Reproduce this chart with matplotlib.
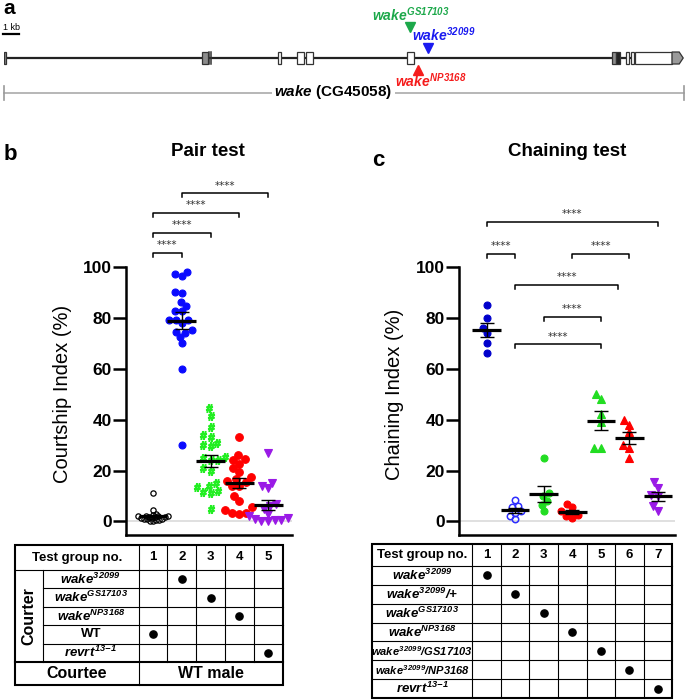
import numpy as np
import matplotlib
matplotlib.use('Agg')
import matplotlib.pyplot as plt
from matplotlib.patches import Rectangle, Polygon

plt.rcParams['font.family'] = ['Liberation Sans', 'DejaVu Sans']
plt.rcParams['mathtext.fontset'] = 'custom'
plt.rcParams['mathtext.rm'] = 'Liberation Sans:italic:bold'
plt.rcParams['mathtext.it'] = 'Liberation Sans:italic:bold'
plt.rcParams['mathtext.bf'] = 'Liberation Sans:bold'

# ---------------- data ----------------
# panel a: gene model, positions in kb
gene_line_end = 39.4
exons_gray = [(0.0, 0.12), (12.38, 12.72), (38.0, 38.25)]
exons_dark = [(38.25, 38.5)]
exons_white = [(17.1, 17.3), (18.3, 18.75), (18.9, 19.3), (25.2, 25.6),
               (38.9, 39.06), (39.2, 39.4), (39.45, 41.75)]
exon_ticks = [12.8, 12.95]
utr_tip = (41.75, 42.45)
ins_gs17103 = 25.4
ins_32099 = 26.5
ins_np3168 = 25.9
gene_span = (0.0, 42.5)

# panel b: pair test, courtship index (%)
pair_groups = [1, 2, 3, 4, 5]
pair_wt = [11.2, 4.5, 3.0, 2.6, 2.3, 2.0, 2.0, 1.8, 1.6, 1.5, 1.3, 1.1, 1.0,
           0.8, 0.6, 0.5, 0.3, 0.1, 2.2, 1.7]
pair_32099 = [98, 97, 96.5, 90, 89.5, 86, 84.5, 82.5, 82.5, 79, 79, 79, 78,
              75, 74.5, 74, 72.5, 70, 60, 30]
pair_gs17103 = [44.5, 41.5, 37, 34, 33, 31, 30, 29.5, 25.5, 25, 24, 24, 21,
                20, 15, 14, 13.5, 12, 11.5, 11, 5]
pair_np3168 = [33, 26, 24.5, 24, 22.5, 21, 19.5, 17.5, 16.5, 16, 15.5, 14,
               14, 10, 8, 5.5, 4.5, 3.5, 3.5, 3]
pair_revrt = [27, 15, 14, 13, 7, 6, 5, 3, 2, 1.5, 1, 0.5, 0.5, 0.3, 0.2]
pair_brackets = [(1, 2, 105.4), (1, 3, 113.3), (1, 4, 121.0), (2, 5, 128.8)]
pair_courters = [r'$wake^{32099}$', r'$wake^{GS17103}$',
                 r'$wake^{NP3168}$', 'WT', r'$revrt^{13{-}1}$']
pair_courter_group = [2, 3, 4, 1, 5]

# panel c: chaining test, chaining index (%)
chain_groups = [1, 2, 3, 4, 5, 6, 7]
chain_32099 = [85, 80, 76, 74, 70, 66]
chain_32099_het = [8.5, 6, 5.5, 4, 3.5, 2, 1]
chain_gs17103 = [25, 11, 10, 8, 6.5, 4]
chain_np3168 = [7, 5.5, 4, 2.5, 2.2, 1.5]
chain_32099_gs = [50, 48, 42, 39, 29, 29]
chain_32099_np = [40, 38, 35, 30, 29, 25]
chain_revrt = [15.5, 13, 10.5, 10, 6, 4]
chain_brackets = [(1, 7, 117.6), (1, 2, 105.0), (4, 6, 105.0), (2, 5.6, 92.8),
                  (3, 5, 80.2), (2, 5, 69.5)]
chain_courters = [r'$wake^{32099}$', r'$wake^{32099}/{+}$',
                  r'$wake^{GS17103}$', r'$wake^{NP3168}$',
                  r'$wake^{32099}/GS17103$', r'$wake^{32099}/NP3168$',
                  r'$revrt^{13{-}1}$']

W, H = 685, 700
fig = plt.figure(figsize=(W / 100, H / 100), dpi=100)


def prect(x0, y0, x1, y1):
    return [x0 / W, 1 - y1 / H, (x1 - x0) / W, (y1 - y0) / H]


ov = fig.add_axes([0, 0, 1, 1])
ov.set_xlim(0, W)
ov.set_ylim(H, 0)
ov.axis('off')

# ---------------- panel a ----------------
ax_a = fig.add_axes(prect(4, 0, 684, 110))
ax_a.set_xlim(*gene_span)
ax_a.set_ylim(110, 0)
ax_a.axis('off')
ax_a.patch.set_alpha(0)
edge = '#333333'
ax_a.plot([0, gene_line_end], [58, 58], color='#222222', lw=1.6, zorder=1)
for s, e in exons_gray:
    ax_a.add_patch(Rectangle((s, 52), e - s, 12, fc='#8c8c8c', ec=edge, lw=0.9, zorder=2))
for s, e in exons_dark:
    ax_a.add_patch(Rectangle((s, 52), e - s, 12, fc='#222222', ec=edge, lw=0.9, zorder=2))
for s, e in exons_white:
    ax_a.add_patch(Rectangle((s, 52), e - s, 12, fc='white', ec=edge, lw=0.9, zorder=2))
for t in exon_ticks:
    ax_a.plot([t, t], [52, 64], color=edge, lw=1.1, zorder=2)
s, e = utr_tip
ax_a.add_patch(Polygon([(s, 52), (e - 0.25, 52), (e, 58), (e - 0.25, 64), (s, 64)],
                       closed=True, fc='#9a9a9a', ec=edge, lw=0.9, zorder=2))
# insertion sites
ax_a.plot(ins_gs17103, 26.5, marker='v', ms=6.5, color='#1ca84a', clip_on=False)
ax_a.text(ins_gs17103, 15, r'$wake^{GS17103}$', color='#1ca84a',
          fontsize=10, ha='center', va='center')
ax_a.plot(ins_32099, 48, marker='v', ms=6.5, color='#1a1af0', clip_on=False)
ax_a.text(ins_32099 + 1.0, 34.5, r'$wake^{32099}$', color='#1a1af0',
          fontsize=10, ha='center', va='center')
ax_a.plot(ins_np3168, 69.5, marker='^', ms=6.5, color='#f51c1c', clip_on=False)
ax_a.text(ins_np3168 + 0.8, 81, r'$wake^{NP3168}$', color='#f51c1c',
          fontsize=10, ha='center', va='center')
# scale bar
ax_a.plot([-0.06, 0.94], [34, 34], color='k', lw=1.6, clip_on=False)
ax_a.text(0.44, 28, '1 kb', fontsize=6.5, ha='center', va='center', clip_on=False)
# gene span
ax_a.plot(gene_span, [93, 93], color='#aaaaaa', lw=1.2, clip_on=False)
for gx in gene_span:
    ax_a.plot([gx, gx], [86, 100], color='#999999', lw=1.2, clip_on=False)
ax_a.text(20.6, 92, r'$wake$ (CG45058)', fontsize=11, fontweight='bold', ha='center',
          va='center', bbox=dict(fc='white', ec='none', pad=2))
ov.text(9, 8, 'a', fontsize=15, fontweight='bold', ha='center', va='center')


# ---------------- scatter panels ----------------
def swarm(vals_px, d):
    order = np.argsort(vals_px)
    placed = []
    offs = np.zeros(len(vals_px))
    for i in order:
        y = vals_px[i]
        cands = [0.0]
        for xj, yj in placed:
            dy = abs(y - yj)
            if dy < d:
                dx = np.sqrt(d * d - dy * dy)
                cands += [xj + dx, xj - dx]
        cands.sort(key=lambda c: (abs(c), c))
        for c in cands:
            if all((c - xj) ** 2 + (y - yj) ** 2 >= d * d - 1e-6 for xj, yj in placed):
                offs[i] = c
                break
        placed.append((offs[i], y))
    return offs


def make_axes(box, xlim):
    ax = fig.add_axes(prect(*box))
    ax.set_xlim(*xlim)
    ax.set_ylim(-5.3, 100)
    ax.patch.set_alpha(0)
    for sp in ['top', 'right']:
        ax.spines[sp].set_visible(False)
    for sp in ['left', 'bottom']:
        ax.spines[sp].set_linewidth(1.8)
    ax.set_xticks([])
    ax.set_yticks([0, 20, 40, 60, 80, 100])
    ax.tick_params(axis='y', length=9.4, width=1.8, labelsize=12.5, pad=1)
    for lab in ax.get_yticklabels():
        lab.set_fontweight('bold')
    ax.axhline(0, color='#dddddd', lw=1.3, zorder=0)
    return ax


def to_px(box, xlim, x):
    return box[0] + (np.asarray(x, float) - xlim[0]) / (xlim[1] - xlim[0]) * (box[2] - box[0])


def draw_group(ax, box, xlim, pos, vals, marker, color, ms, filled=True, mew=0.8, dscale=0.95):
    sx = (box[2] - box[0]) / (xlim[1] - xlim[0])
    sy = (box[3] - box[1]) / 105.3
    vals = np.asarray(vals, float)
    d = ms * 100 / 72 * dscale
    offs = swarm(vals * sy, d) / sx
    ax.plot(pos + offs, vals, ls='none', marker=marker, ms=ms,
            mfc=color if filled else 'none', mec=color, mew=mew, zorder=3)
    m = vals.mean()
    se = vals.std(ddof=1) / np.sqrt(len(vals))
    ax.plot([pos - 0.5, pos + 0.5], [m, m], color='k', lw=2.3, zorder=5,
            solid_capstyle='butt')
    ax.errorbar(pos, m, yerr=se, color='k', lw=1.0, capsize=4.7, capthick=1.0, zorder=5)


def draw_brackets(ax, brackets):
    for x1, x2, y in brackets:
        ax.plot([x1, x1, x2, x2], [y - 1.6, y, y, y - 1.6], color='k', lw=1.1,
                clip_on=False)
        ax.text((x1 + x2) / 2, y + 1.1, '****', ha='center', va='bottom', fontsize=7.5,
                color='#333333', family='DejaVu Sans', clip_on=False)


PAIR_BOX = (126, 266.7, 292, 535)
PAIR_XLIM = (0.06, 5.83)
ax_b = make_axes(PAIR_BOX, PAIR_XLIM)
draw_group(ax_b, PAIR_BOX, PAIR_XLIM, 1, pair_wt, 'o', 'k', 3.8, filled=False,
           mew=0.9, dscale=0.6)
draw_group(ax_b, PAIR_BOX, PAIR_XLIM, 2, pair_32099, 'o', '#0a0aff', 5)
draw_group(ax_b, PAIR_BOX, PAIR_XLIM, 3, pair_gs17103, r'$\mathbf{\#}$', '#22ee22', 5.6,
           mew=0.9, dscale=1.0)
draw_group(ax_b, PAIR_BOX, PAIR_XLIM, 4, pair_np3168, 'o', '#ff0000', 5.5)
draw_group(ax_b, PAIR_BOX, PAIR_XLIM, 5, pair_revrt, 'v', '#9a1ae6', 6, dscale=0.8)
draw_brackets(ax_b, pair_brackets)

CHAIN_BOX = (459.3, 266.7, 675, 535)
CHAIN_XLIM = (0.04, 7.6)
ax_c = make_axes(CHAIN_BOX, CHAIN_XLIM)
draw_group(ax_c, CHAIN_BOX, CHAIN_XLIM, 1, chain_32099, 'o', '#0000cc', 5)
draw_group(ax_c, CHAIN_BOX, CHAIN_XLIM, 2, chain_32099_het, 'o', '#2d2dff', 4.6,
           filled=False, mew=1.1)
draw_group(ax_c, CHAIN_BOX, CHAIN_XLIM, 3, chain_gs17103, 'o', '#22dd22', 5)
draw_group(ax_c, CHAIN_BOX, CHAIN_XLIM, 4, chain_np3168, 'o', '#ff0000', 5)
draw_group(ax_c, CHAIN_BOX, CHAIN_XLIM, 5, chain_32099_gs, '^', '#22dd22', 5.5)
draw_group(ax_c, CHAIN_BOX, CHAIN_XLIM, 6, chain_32099_np, '^', '#ff0000', 5.5)
draw_group(ax_c, CHAIN_BOX, CHAIN_XLIM, 7, chain_revrt, 'v', '#9a1ae6', 5.5)
draw_brackets(ax_c, chain_brackets)

ov.text(10, 155, 'b', fontsize=16, fontweight='bold', ha='center', va='center')
ov.text(208, 152, 'Pair test', fontsize=13.5, fontweight='bold', ha='center', va='center')
ov.text(378, 160, 'c', fontsize=16, fontweight='bold', ha='center', va='center')
ov.text(567, 151, 'Chaining test', fontsize=13.5, fontweight='bold', ha='center', va='center')
ov.text(63, 394, 'Courtship Index (%)', fontsize=14.5, rotation=90, ha='center', va='center')
ov.text(395, 394, 'Chaining Index (%)', fontsize=14.5, rotation=90, ha='center', va='center')

# ---------------- tables ----------------
LW_OUT, LW_IN = 1.5, 0.8


def hline(y, x0, x1, lw=LW_IN):
    ov.plot([x0, x1], [y, y], color='k', lw=lw, solid_capstyle='projecting')


def vline(x, y0, y1, lw=LW_IN):
    ov.plot([x, x], [y0, y1], color='k', lw=lw, solid_capstyle='projecting')


def col_edges(box, xlim, groups):
    cx = to_px(box, xlim, groups)
    half = (cx[1] - cx[0]) / 2
    edges = [cx[0] - half] + list((cx[:-1] + cx[1:]) / 2) + [cx[-1] + half]
    return cx, edges


TFS = 9.5
# table b
cx, ed = col_edges(PAIR_BOX, PAIR_XLIM, pair_groups)
L, C, R = 15, 43, ed[-1]
top, hb, bot = 545, 570, 685
rows = np.linspace(570, 662, len(pair_courters) + 1)
for y in rows[1:-1]:
    hline(y, C, R)
hline(hb, L, R)
hline(rows[-1], L, R, lw=LW_OUT)
vline(C, hb, rows[-1])
for x in ed[1:-1]:
    vline(x, top, rows[-1])
vline(ed[0], top, bot)
ov.add_patch(Rectangle((L, top), R - L, bot - top, fill=False, ec='k', lw=LW_OUT))
ov.text((L + ed[0]) / 2, (top + hb) / 2, 'Test group no.', fontsize=TFS,
        fontweight='bold', ha='center', va='center')
for g, x in zip(pair_groups, cx):
    ov.text(x, (top + hb) / 2, str(g), fontsize=TFS, fontweight='bold', ha='center', va='center')
for i, (lab, g) in enumerate(zip(pair_courters, pair_courter_group)):
    yc = (rows[i] + rows[i + 1]) / 2
    ov.text((C + ed[0]) / 2, yc, lab, fontsize=TFS, fontweight='bold', ha='center', va='center')
    ov.plot(cx[g - 1], yc, 'o', color='k', ms=5.2)
ov.text((L + C) / 2, (hb + rows[-1]) / 2, 'Courter', fontsize=11.5, fontweight='bold',
        rotation=90, ha='center', va='center')
ov.text((L + ed[0]) / 2, (rows[-1] + bot) / 2, 'Courtee', fontsize=11.5,
        fontweight='bold', ha='center', va='center')
ov.text((ed[0] + R) / 2, (rows[-1] + bot) / 2, 'WT male', fontsize=11.5,
        fontweight='bold', ha='center', va='center')

# table c
cx, ed = col_edges(CHAIN_BOX, CHAIN_XLIM, chain_groups)
L, R = 372, ed[-1]
top, hb, bot = 544, 566, 698
rows = np.linspace(hb, bot, len(chain_courters) + 1)
for y in rows[:-1]:
    hline(y, L, R)
for x in ed[:-1]:
    vline(x, top, bot)
ov.add_patch(Rectangle((L, top), R - L, bot - top, fill=False, ec='k', lw=LW_OUT))
ov.text((L + ed[0]) / 2, (top + hb) / 2, 'Test group no.', fontsize=TFS,
        fontweight='bold', ha='center', va='center')
for g, x in zip(chain_groups, cx):
    ov.text(x, (top + hb) / 2, str(g), fontsize=TFS, fontweight='bold', ha='center', va='center')
for i, lab in enumerate(chain_courters):
    yc = (rows[i] + rows[i + 1]) / 2
    fs = 8.0 if '/' in lab and '+' not in lab else TFS
    ov.text((L + ed[0]) / 2, yc, lab, fontsize=fs, fontweight='bold', ha='center', va='center')
    ov.plot(cx[i], yc, 'o', color='k', ms=5.2)

fig.savefig('out.png', dpi=100)
